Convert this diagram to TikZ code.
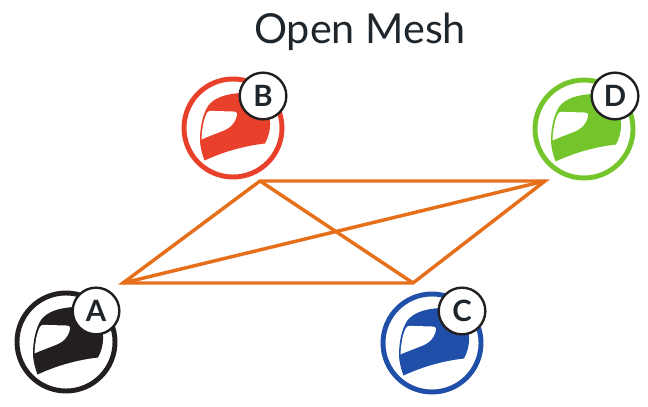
\documentclass[tikz,border=0pt]{standalone}
\usepackage{fontspec}
\setmainfont{Lato}
\definecolor{meshline}{HTML}{E66F1C}
\definecolor{helmA}{HTML}{231F20}
\definecolor{helmB}{HTML}{E8402A}
\definecolor{helmC}{HTML}{1F4FA8}
\definecolor{helmD}{HTML}{74C52B}
\definecolor{inkc}{HTML}{1E252B}
\tikzset{
  x=0.75pt,y=-0.75pt,
  ringst/.style={circle,draw=#1,line width=3.7pt,fill=white,minimum size=73.5pt,inner sep=0pt},
  badgest/.style={circle,draw=helmA,line width=1.8pt,fill=white,minimum size=35pt,inner sep=0pt,text=inkc,font=\fontsize{22}{22}\selectfont\bfseries},
  meshst/.style={draw=meshline,line width=2.6pt,line join=miter},
  titlest/.style={text=inkc,font=\fontsize{31}{31}\selectfont,inner sep=0pt},
  helmet/.pic={
    \fill[pic actions] (-28.5,32.5) .. controls (-31,26) and (-33,18) .. (-33,12)
      .. controls (-33,-2) and (-30,-14) .. (-25,-22)
      .. controls (-19,-30) and (-8,-34) .. (8,-35)
      .. controls (24,-35) and (36,-22) .. (37,-6)
      .. controls (37.5,2) and (35,10) .. (32,15.5)
      .. controls (10,18) and (-10,24) .. (-28.5,32.5) -- cycle;
    \fill[white] (-31.5,11.5) .. controls (-31,0) and (-29,-10) .. (-26,-15)
      .. controls (-24,-18) and (-22,-17) .. (-18,-17)
      -- (0,-16.5) .. controls (5,-16.5) and (4,-14) .. (3.5,-11)
      .. controls (1,-4) and (-2,-1) .. (-8,2)
      .. controls (-15,5) and (-24,8) .. (-31.5,11.5) -- cycle;
  }
}
\begin{document}
\begin{tikzpicture}
\useasboundingbox (0,0) rectangle (648,406);
\node[titlest] (title) at (360,32) {Open Mesh};

\coordinate (pa) at (123,283);
\coordinate (pb) at (260,181);
\coordinate (pc) at (413,283);
\coordinate (pd) at (545,181);
\draw[meshst] (pa) -- (pb) -- (pd) -- (pc) -- cycle;
\draw[meshst] (pa) -- (pd);
\draw[meshst] (pb) -- (pc);

\node[ringst=helmA] (ringA) at (66,342) {};
\pic[fill=helmA] at (ringA.center) {helmet};
\node[badgest] (badgeA) at (96,311) {A};

\node[ringst=helmB] (ringB) at (233,128) {};
\pic[fill=helmB] at (ringB.center) {helmet};
\node[badgest] (badgeB) at (263,96) {B};

\node[ringst=helmC] (ringC) at (432,343) {};
\pic[fill=helmC] at (ringC.center) {helmet};
\node[badgest] (badgeC) at (462,311) {C};

\node[ringst=helmD] (ringD) at (584,129) {};
\pic[fill=helmD] at (ringD.center) {helmet};
\node[badgest] (badgeD) at (615,96) {D};
\end{tikzpicture}
\end{document}
